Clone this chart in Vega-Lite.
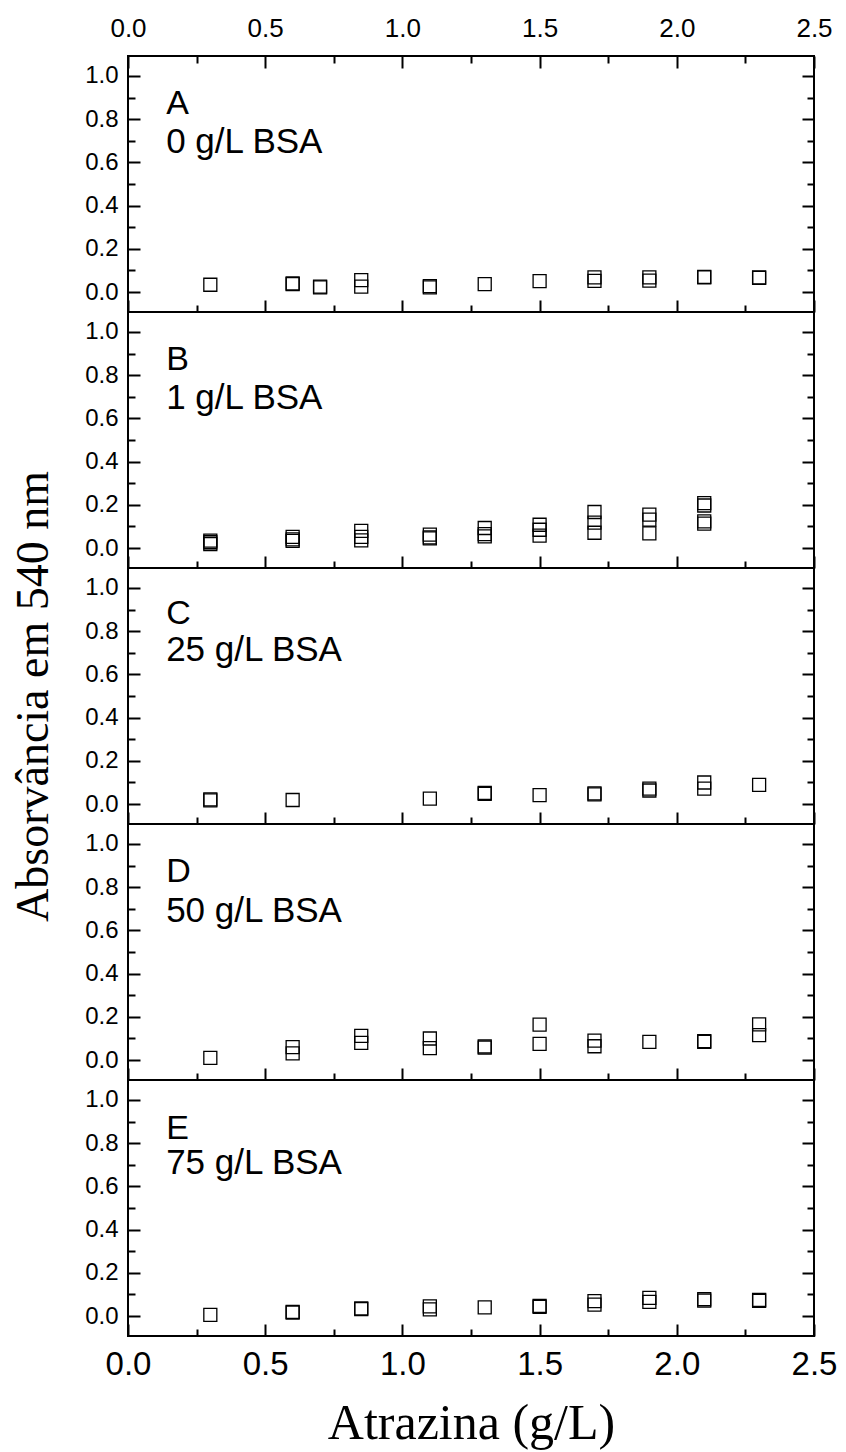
{
  "$schema": "https://vega.github.io/schema/vega-lite/v6.json",
  "background": "white",
  "padding": {"left": 9, "top": 9, "right": 5, "bottom": 2},
  "spacing": 0,
  "bounds": "flush",
  "config": {
    "view": {"stroke": "black", "strokeWidth": 2, "fill": "white"},
    "axis": {"domain": false, "grid": false, "tickColor": "black", "tickWidth": 2, "labelColor": "black", "labelFont": "Liberation Sans", "labelFlush": false, "labelOverlap": false, "titleColor": "black", "titleFont": "Liberation Serif", "titleFontWeight": "normal"},
    "text": {"font": "Liberation Sans", "color": "black", "align": "left", "baseline": "alphabetic"}
  },
  "datasets": {
    "pts": [
      {"panel": "A", "atrazina": 0.3, "abs": 0.034},
      {"panel": "A", "atrazina": 0.6, "abs": 0.037},
      {"panel": "A", "atrazina": 0.6, "abs": 0.040},
      {"panel": "A", "atrazina": 0.7, "abs": 0.022},
      {"panel": "A", "atrazina": 0.7, "abs": 0.025},
      {"panel": "A", "atrazina": 0.85, "abs": 0.055},
      {"panel": "A", "atrazina": 0.85, "abs": 0.025},
      {"panel": "A", "atrazina": 1.1, "abs": 0.028},
      {"panel": "A", "atrazina": 1.1, "abs": 0.022},
      {"panel": "A", "atrazina": 1.3, "abs": 0.037},
      {"panel": "A", "atrazina": 1.5, "abs": 0.051},
      {"panel": "A", "atrazina": 1.7, "abs": 0.068},
      {"panel": "A", "atrazina": 1.7, "abs": 0.052},
      {"panel": "A", "atrazina": 1.9, "abs": 0.068},
      {"panel": "A", "atrazina": 1.9, "abs": 0.053},
      {"panel": "A", "atrazina": 2.1, "abs": 0.068},
      {"panel": "A", "atrazina": 2.1, "abs": 0.070},
      {"panel": "A", "atrazina": 2.3, "abs": 0.068},
      {"panel": "A", "atrazina": 2.3, "abs": 0.066},
      {"panel": "B", "atrazina": 0.3, "abs": 0.035},
      {"panel": "B", "atrazina": 0.3, "abs": 0.027},
      {"panel": "B", "atrazina": 0.3, "abs": 0.019},
      {"panel": "B", "atrazina": 0.6, "abs": 0.052},
      {"panel": "B", "atrazina": 0.6, "abs": 0.040},
      {"panel": "B", "atrazina": 0.6, "abs": 0.033},
      {"panel": "B", "atrazina": 0.85, "abs": 0.080},
      {"panel": "B", "atrazina": 0.85, "abs": 0.052},
      {"panel": "B", "atrazina": 0.85, "abs": 0.036},
      {"panel": "B", "atrazina": 1.1, "abs": 0.062},
      {"panel": "B", "atrazina": 1.1, "abs": 0.050},
      {"panel": "B", "atrazina": 1.1, "abs": 0.045},
      {"panel": "B", "atrazina": 1.3, "abs": 0.093},
      {"panel": "B", "atrazina": 1.3, "abs": 0.065},
      {"panel": "B", "atrazina": 1.3, "abs": 0.054},
      {"panel": "B", "atrazina": 1.5, "abs": 0.108},
      {"panel": "B", "atrazina": 1.5, "abs": 0.085},
      {"panel": "B", "atrazina": 1.5, "abs": 0.058},
      {"panel": "B", "atrazina": 1.7, "abs": 0.167},
      {"panel": "B", "atrazina": 1.7, "abs": 0.118},
      {"panel": "B", "atrazina": 1.7, "abs": 0.071},
      {"panel": "B", "atrazina": 1.9, "abs": 0.155},
      {"panel": "B", "atrazina": 1.9, "abs": 0.132},
      {"panel": "B", "atrazina": 1.9, "abs": 0.068},
      {"panel": "B", "atrazina": 2.1, "abs": 0.208},
      {"panel": "B", "atrazina": 2.1, "abs": 0.197},
      {"panel": "B", "atrazina": 2.1, "abs": 0.124},
      {"panel": "B", "atrazina": 2.1, "abs": 0.113},
      {"panel": "C", "atrazina": 0.3, "abs": 0.022},
      {"panel": "C", "atrazina": 0.3, "abs": 0.017},
      {"panel": "C", "atrazina": 0.6, "abs": 0.019},
      {"panel": "C", "atrazina": 1.1, "abs": 0.025},
      {"panel": "C", "atrazina": 1.3, "abs": 0.052},
      {"panel": "C", "atrazina": 1.3, "abs": 0.048},
      {"panel": "C", "atrazina": 1.5, "abs": 0.042},
      {"panel": "C", "atrazina": 1.7, "abs": 0.050},
      {"panel": "C", "atrazina": 1.7, "abs": 0.045},
      {"panel": "C", "atrazina": 1.9, "abs": 0.072},
      {"panel": "C", "atrazina": 1.9, "abs": 0.063},
      {"panel": "C", "atrazina": 2.1, "abs": 0.100},
      {"panel": "C", "atrazina": 2.1, "abs": 0.072},
      {"panel": "C", "atrazina": 2.3, "abs": 0.089},
      {"panel": "D", "atrazina": 0.3, "abs": 0.010},
      {"panel": "D", "atrazina": 0.6, "abs": 0.060},
      {"panel": "D", "atrazina": 0.6, "abs": 0.031},
      {"panel": "D", "atrazina": 0.85, "abs": 0.112},
      {"panel": "D", "atrazina": 0.85, "abs": 0.080},
      {"panel": "D", "atrazina": 1.1, "abs": 0.100},
      {"panel": "D", "atrazina": 1.1, "abs": 0.055},
      {"panel": "D", "atrazina": 1.3, "abs": 0.063},
      {"panel": "D", "atrazina": 1.3, "abs": 0.058},
      {"panel": "D", "atrazina": 1.5, "abs": 0.164},
      {"panel": "D", "atrazina": 1.5, "abs": 0.075},
      {"panel": "D", "atrazina": 1.7, "abs": 0.090},
      {"panel": "D", "atrazina": 1.7, "abs": 0.064},
      {"panel": "D", "atrazina": 1.9, "abs": 0.084},
      {"panel": "D", "atrazina": 2.1, "abs": 0.088},
      {"panel": "D", "atrazina": 2.1, "abs": 0.085},
      {"panel": "D", "atrazina": 2.3, "abs": 0.165},
      {"panel": "D", "atrazina": 2.3, "abs": 0.116},
      {"panel": "E", "atrazina": 0.3, "abs": 0.006},
      {"panel": "E", "atrazina": 0.6, "abs": 0.020},
      {"panel": "E", "atrazina": 0.6, "abs": 0.016},
      {"panel": "E", "atrazina": 0.85, "abs": 0.036},
      {"panel": "E", "atrazina": 0.85, "abs": 0.032},
      {"panel": "E", "atrazina": 1.1, "abs": 0.045},
      {"panel": "E", "atrazina": 1.1, "abs": 0.031},
      {"panel": "E", "atrazina": 1.3, "abs": 0.040},
      {"panel": "E", "atrazina": 1.5, "abs": 0.047},
      {"panel": "E", "atrazina": 1.5, "abs": 0.043},
      {"panel": "E", "atrazina": 1.7, "abs": 0.069},
      {"panel": "E", "atrazina": 1.7, "abs": 0.053},
      {"panel": "E", "atrazina": 1.9, "abs": 0.084},
      {"panel": "E", "atrazina": 1.9, "abs": 0.066},
      {"panel": "E", "atrazina": 2.1, "abs": 0.078},
      {"panel": "E", "atrazina": 2.1, "abs": 0.072},
      {"panel": "E", "atrazina": 2.3, "abs": 0.075},
      {"panel": "E", "atrazina": 2.3, "abs": 0.071}
    ],
    "labels": [
      {"panel": "A", "letter": "A", "bsa": "0 g/L BSA"},
      {"panel": "B", "letter": "B", "bsa": "1 g/L BSA"},
      {"panel": "C", "letter": "C", "bsa": "25 g/L BSA"},
      {"panel": "D", "letter": "D", "bsa": "50 g/L BSA"},
      {"panel": "E", "letter": "E", "bsa": "75 g/L BSA"}
    ]
  },
  "vconcat": [
    {
      "width": 686, "height": 256,
      "resolve": {"axis": {"x": "independent", "y": "independent"}},
      "layer": [
        {
          "data": {"name": "pts"},
          "transform": [{"filter": "datum.panel === 'A'"}],
          "mark": {"type": "point", "shape": "square", "filled": false, "size": 169, "stroke": "black", "strokeWidth": 1.3, "opacity": 1},
          "encoding": {
            "x": {"field": "atrazina", "type": "quantitative", "scale": {"domain": [0, 2.5], "nice": false, "zero": false},
              "axis": {"orient": "bottom", "title": null, "values": [0, 0.25, 0.5, 0.75, 1, 1.25, 1.5, 1.75, 2, 2.25, 2.5], "labels": false, "tickSize": {"condition": {"test": "round(datum.value*4) % 2 === 0", "value": -12}, "value": -7}}},
            "y": {"field": "abs", "type": "quantitative", "scale": {"domain": [-0.092, 1.092], "nice": false, "zero": false},
              "axis": {"orient": "left", "title": null, "values": [0, 0.1, 0.2, 0.3, 0.4, 0.5, 0.6, 0.7, 0.8, 0.9, 1.0], "labelFontSize": 24, "labelPadding": 22, "labelExpr": "round(datum.value*10) % 2 === 0 ? format(datum.value, '.1f') : ''", "tickSize": {"condition": {"test": "round(datum.value*10) % 2 === 0", "value": -12}, "value": -7}}}
          }
        },
        {
          "data": {"name": "labels"},
          "transform": [{"filter": "datum.panel === 'A'"}],
          "mark": {"type": "text", "fontSize": 34},
          "encoding": {
            "x": {"datum": 0.139, "type": "quantitative",
              "axis": {"orient": "top", "title": null, "values": [0, 0.25, 0.5, 0.75, 1, 1.25, 1.5, 1.75, 2, 2.25, 2.5], "labelFontSize": 26, "labelPadding": 27, "labelExpr": "round(datum.value*4) % 2 === 0 ? format(datum.value, '.1f') : ''", "tickSize": {"condition": {"test": "round(datum.value*4) % 2 === 0", "value": -12}, "value": -7}}},
            "y": {"datum": 0.825, "type": "quantitative",
              "axis": {"orient": "right", "title": null, "values": [0, 0.1, 0.2, 0.3, 0.4, 0.5, 0.6, 0.7, 0.8, 0.9, 1.0], "labels": false, "tickSize": {"condition": {"test": "round(datum.value*10) % 2 === 0", "value": -12}, "value": -7}}},
            "text": {"field": "letter"}
          }
        },
        {
          "data": {"name": "labels"},
          "transform": [{"filter": "datum.panel === 'A'"}],
          "mark": {"type": "text", "fontSize": 35},
          "encoding": {
            "x": {"datum": 0.139, "type": "quantitative", "axis": null},
            "y": {"datum": 0.645, "type": "quantitative", "axis": null},
            "text": {"field": "bsa"}
          }
        }
      ]
    },
    {
      "width": 686, "height": 256,
      "resolve": {"axis": {"x": "independent", "y": "independent"}},
      "layer": [
        {
          "data": {"name": "pts"},
          "transform": [{"filter": "datum.panel === 'B'"}],
          "mark": {"type": "point", "shape": "square", "filled": false, "size": 169, "stroke": "black", "strokeWidth": 1.3, "opacity": 1},
          "encoding": {
            "x": {"field": "atrazina", "type": "quantitative", "scale": {"domain": [0, 2.5], "nice": false, "zero": false},
              "axis": {"orient": "bottom", "title": null, "values": [0, 0.25, 0.5, 0.75, 1, 1.25, 1.5, 1.75, 2, 2.25, 2.5], "labels": false, "tickSize": {"condition": {"test": "round(datum.value*4) % 2 === 0", "value": -12}, "value": -7}}},
            "y": {"field": "abs", "type": "quantitative", "scale": {"domain": [-0.092, 1.092], "nice": false, "zero": false},
              "axis": {"orient": "left", "title": null, "values": [0, 0.1, 0.2, 0.3, 0.4, 0.5, 0.6, 0.7, 0.8, 0.9, 1.0], "labelFontSize": 24, "labelPadding": 22, "labelExpr": "round(datum.value*10) % 2 === 0 ? format(datum.value, '.1f') : ''", "tickSize": {"condition": {"test": "round(datum.value*10) % 2 === 0", "value": -12}, "value": -7}}}
          }
        },
        {
          "data": {"name": "labels"},
          "transform": [{"filter": "datum.panel === 'B'"}],
          "mark": {"type": "text", "fontSize": 34},
          "encoding": {
            "x": {"datum": 0.139, "type": "quantitative", "axis": null},
            "y": {"datum": 0.825, "type": "quantitative",
              "axis": {"orient": "right", "title": null, "values": [0, 0.1, 0.2, 0.3, 0.4, 0.5, 0.6, 0.7, 0.8, 0.9, 1.0], "labels": false, "tickSize": {"condition": {"test": "round(datum.value*10) % 2 === 0", "value": -12}, "value": -7}}},
            "text": {"field": "letter"}
          }
        },
        {
          "data": {"name": "labels"},
          "transform": [{"filter": "datum.panel === 'B'"}],
          "mark": {"type": "text", "fontSize": 35},
          "encoding": {
            "x": {"datum": 0.139, "type": "quantitative", "axis": null},
            "y": {"datum": 0.645, "type": "quantitative", "axis": null},
            "text": {"field": "bsa"}
          }
        }
      ]
    },
    {
      "width": 686, "height": 256,
      "resolve": {"axis": {"x": "independent", "y": "independent"}},
      "layer": [
        {
          "data": {"name": "pts"},
          "transform": [{"filter": "datum.panel === 'C'"}],
          "mark": {"type": "point", "shape": "square", "filled": false, "size": 169, "stroke": "black", "strokeWidth": 1.3, "opacity": 1},
          "encoding": {
            "x": {"field": "atrazina", "type": "quantitative", "scale": {"domain": [0, 2.5], "nice": false, "zero": false},
              "axis": {"orient": "bottom", "title": null, "values": [0, 0.25, 0.5, 0.75, 1, 1.25, 1.5, 1.75, 2, 2.25, 2.5], "labels": false, "tickSize": {"condition": {"test": "round(datum.value*4) % 2 === 0", "value": -12}, "value": -7}}},
            "y": {"field": "abs", "type": "quantitative", "scale": {"domain": [-0.092, 1.092], "nice": false, "zero": false},
              "axis": {"orient": "left", "title": "Absorvância em 540 nm", "titleFontSize": 46, "titlePadding": 27, "values": [0, 0.1, 0.2, 0.3, 0.4, 0.5, 0.6, 0.7, 0.8, 0.9, 1.0], "labelFontSize": 24, "labelPadding": 22, "labelExpr": "round(datum.value*10) % 2 === 0 ? format(datum.value, '.1f') : ''", "tickSize": {"condition": {"test": "round(datum.value*10) % 2 === 0", "value": -12}, "value": -7}}}
          }
        },
        {
          "data": {"name": "labels"},
          "transform": [{"filter": "datum.panel === 'C'"}],
          "mark": {"type": "text", "fontSize": 34},
          "encoding": {
            "x": {"datum": 0.139, "type": "quantitative", "axis": null},
            "y": {"datum": 0.835, "type": "quantitative",
              "axis": {"orient": "right", "title": null, "values": [0, 0.1, 0.2, 0.3, 0.4, 0.5, 0.6, 0.7, 0.8, 0.9, 1.0], "labels": false, "tickSize": {"condition": {"test": "round(datum.value*10) % 2 === 0", "value": -12}, "value": -7}}},
            "text": {"field": "letter"}
          }
        },
        {
          "data": {"name": "labels"},
          "transform": [{"filter": "datum.panel === 'C'"}],
          "mark": {"type": "text", "fontSize": 35},
          "encoding": {
            "x": {"datum": 0.139, "type": "quantitative", "axis": null},
            "y": {"datum": 0.66, "type": "quantitative", "axis": null},
            "text": {"field": "bsa"}
          }
        }
      ]
    },
    {
      "width": 686, "height": 256,
      "resolve": {"axis": {"x": "independent", "y": "independent"}},
      "layer": [
        {
          "data": {"name": "pts"},
          "transform": [{"filter": "datum.panel === 'D'"}],
          "mark": {"type": "point", "shape": "square", "filled": false, "size": 169, "stroke": "black", "strokeWidth": 1.3, "opacity": 1},
          "encoding": {
            "x": {"field": "atrazina", "type": "quantitative", "scale": {"domain": [0, 2.5], "nice": false, "zero": false},
              "axis": {"orient": "bottom", "title": null, "values": [0, 0.25, 0.5, 0.75, 1, 1.25, 1.5, 1.75, 2, 2.25, 2.5], "labels": false, "tickSize": {"condition": {"test": "round(datum.value*4) % 2 === 0", "value": -12}, "value": -7}}},
            "y": {"field": "abs", "type": "quantitative", "scale": {"domain": [-0.092, 1.092], "nice": false, "zero": false},
              "axis": {"orient": "left", "title": null, "values": [0, 0.1, 0.2, 0.3, 0.4, 0.5, 0.6, 0.7, 0.8, 0.9, 1.0], "labelFontSize": 24, "labelPadding": 22, "labelExpr": "round(datum.value*10) % 2 === 0 ? format(datum.value, '.1f') : ''", "tickSize": {"condition": {"test": "round(datum.value*10) % 2 === 0", "value": -12}, "value": -7}}}
          }
        },
        {
          "data": {"name": "labels"},
          "transform": [{"filter": "datum.panel === 'D'"}],
          "mark": {"type": "text", "fontSize": 34},
          "encoding": {
            "x": {"datum": 0.139, "type": "quantitative", "axis": null},
            "y": {"datum": 0.825, "type": "quantitative",
              "axis": {"orient": "right", "title": null, "values": [0, 0.1, 0.2, 0.3, 0.4, 0.5, 0.6, 0.7, 0.8, 0.9, 1.0], "labels": false, "tickSize": {"condition": {"test": "round(datum.value*10) % 2 === 0", "value": -12}, "value": -7}}},
            "text": {"field": "letter"}
          }
        },
        {
          "data": {"name": "labels"},
          "transform": [{"filter": "datum.panel === 'D'"}],
          "mark": {"type": "text", "fontSize": 35},
          "encoding": {
            "x": {"datum": 0.139, "type": "quantitative", "axis": null},
            "y": {"datum": 0.64, "type": "quantitative", "axis": null},
            "text": {"field": "bsa"}
          }
        }
      ]
    },
    {
      "width": 686, "height": 256,
      "resolve": {"axis": {"x": "independent", "y": "independent"}},
      "layer": [
        {
          "data": {"name": "pts"},
          "transform": [{"filter": "datum.panel === 'E'"}],
          "mark": {"type": "point", "shape": "square", "filled": false, "size": 169, "stroke": "black", "strokeWidth": 1.3, "opacity": 1},
          "encoding": {
            "x": {"field": "atrazina", "type": "quantitative", "scale": {"domain": [0, 2.5], "nice": false, "zero": false},
              "axis": {"orient": "bottom", "title": "Atrazina (g/L)", "titleFontSize": 50, "titlePadding": 12, "values": [0, 0.25, 0.5, 0.75, 1, 1.25, 1.5, 1.75, 2, 2.25, 2.5], "labelFontSize": 33, "labelPadding": 24, "labelExpr": "round(datum.value*4) % 2 === 0 ? format(datum.value, '.1f') : ''", "tickSize": {"condition": {"test": "round(datum.value*4) % 2 === 0", "value": -12}, "value": -7}}},
            "y": {"field": "abs", "type": "quantitative", "scale": {"domain": [-0.092, 1.092], "nice": false, "zero": false},
              "axis": {"orient": "left", "title": null, "values": [0, 0.1, 0.2, 0.3, 0.4, 0.5, 0.6, 0.7, 0.8, 0.9, 1.0], "labelFontSize": 24, "labelPadding": 22, "labelExpr": "round(datum.value*10) % 2 === 0 ? format(datum.value, '.1f') : ''", "tickSize": {"condition": {"test": "round(datum.value*10) % 2 === 0", "value": -12}, "value": -7}}}
          }
        },
        {
          "data": {"name": "labels"},
          "transform": [{"filter": "datum.panel === 'E'"}],
          "mark": {"type": "text", "fontSize": 34},
          "encoding": {
            "x": {"datum": 0.139, "type": "quantitative", "axis": null},
            "y": {"datum": 0.82, "type": "quantitative",
              "axis": {"orient": "right", "title": null, "values": [0, 0.1, 0.2, 0.3, 0.4, 0.5, 0.6, 0.7, 0.8, 0.9, 1.0], "labels": false, "tickSize": {"condition": {"test": "round(datum.value*10) % 2 === 0", "value": -12}, "value": -7}}},
            "text": {"field": "letter"}
          }
        },
        {
          "data": {"name": "labels"},
          "transform": [{"filter": "datum.panel === 'E'"}],
          "mark": {"type": "text", "fontSize": 35},
          "encoding": {
            "x": {"datum": 0.139, "type": "quantitative", "axis": null},
            "y": {"datum": 0.655, "type": "quantitative", "axis": null},
            "text": {"field": "bsa"}
          }
        }
      ]
    }
  ]
}
